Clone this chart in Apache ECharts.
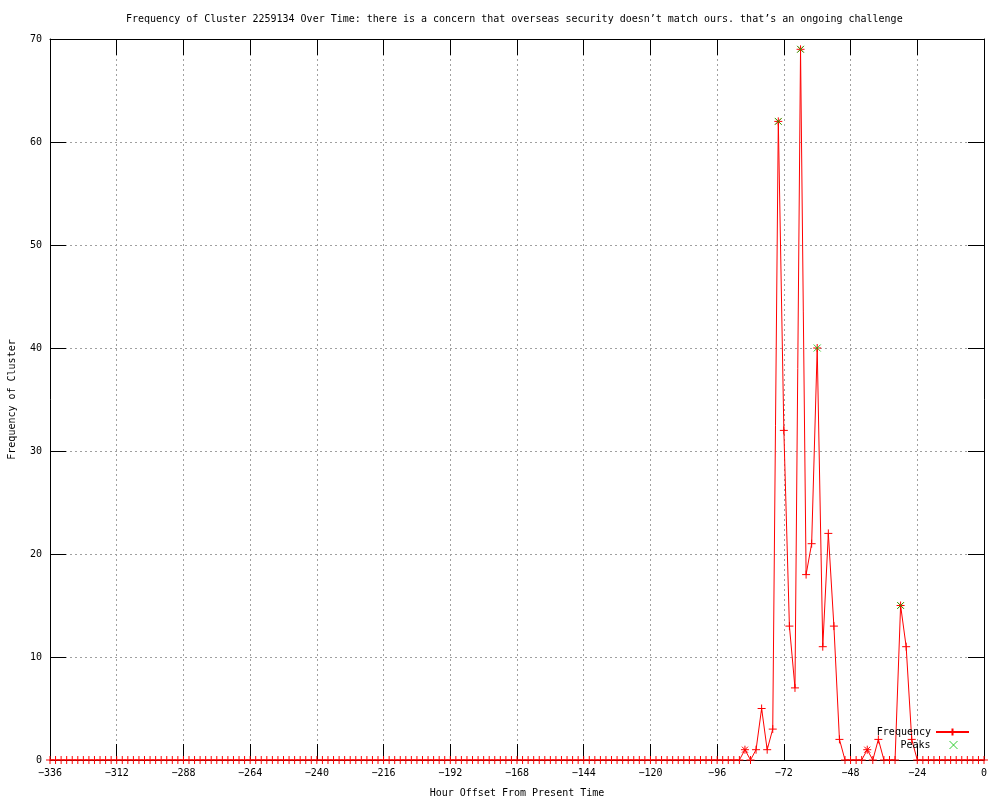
<!DOCTYPE html>
<html>
<head>
<meta charset="utf-8">
<script src="https://cdn.jsdelivr.net/npm/echarts@6/dist/echarts.min.js"></script>
<style>html,body{margin:0;padding:0;background:#fff}#c{width:1000px;height:800px}</style>
</head>
<body>
<div id="c"></div>
<script>
// Hours: -336 .. 0, every 2 hours (169 samples)
const startHour = -336;
const stepHours = 2;
const frequency = [
  0,0,0,0,0,0,0,0,0,0,0,0,0,0,0,0,0,0,0,0,
  0,0,0,0,0,0,0,0,0,0,0,0,0,0,0,0,0,0,0,0,
  0,0,0,0,0,0,0,0,0,0,0,0,0,0,0,0,0,0,0,0,
  0,0,0,0,0,0,0,0,0,0,0,0,0,0,0,0,0,0,0,0,
  0,0,0,0,0,0,0,0,0,0,0,0,0,0,0,0,0,0,0,0,
  0,0,0,0,0,0,0,0,0,0,0,0,0,0,0,0,0,0,0,0,
  0,0,0,0,0,
  // -86 .. -24
  1,0,1,5,1,3,62,32,13,7,69,18,21,40,11,22,13,2,0,0,0,0,1,0,2,0,0,0,15,11,2,0,
  // -22 .. 0
  0,0,0,0,0,0,0,0,0,0,0,0
];
const starHours = [-86, -74, -66, -42, -30];
const peakHours = [-74, -66, -60, -30];
const peakValues = [62, 69, 40, 15];
const xTicks = [-336,-312,-288,-264,-240,-216,-192,-168,-144,-120,-96,-72,-48,-24,0];
const yTicks = [0,10,20,30,40,50,60,70];

const titleText = "Frequency of Cluster 2259134 Over Time: there is a concern that overseas security doesn\u2019t match ours. that\u2019s an ongoing challenge";

const PLUS = 'path://M0,4H8M4,0V8';
const STAR = 'path://M0,4H8M4,0V8M1,1L7,7M7,1L1,7';
const CROSS = 'path://M0,0L8,8M8,0L0,8';
const FONT = 'DejaVu Sans Mono';

const freqData = frequency.map((v, i) => {
  const h = startHour + i * stepHours;
  const item = { value: [h, v] };
  if (starHours.indexOf(h) >= 0) item.symbol = STAR;
  return item;
});
const peakData = peakHours.map((h, i) => [h, peakValues[i]]);

function baseAxis(extra) {
  return Object.assign({
    type: 'value',
    axisLine: { show: true, onZero: false, lineStyle: { color: '#000', width: 1 } },
    axisTick: { show: true, inside: true, length: 16, lineStyle: { color: '#000', width: 1 } },
    splitLine: { show: false },
    axisLabel: { show: false }
  }, extra);
}

const chart = echarts.init(document.getElementById('c'), null, { renderer: 'canvas' });
chart.setOption({
  animation: false,
  backgroundColor: '#fff',
  title: {
    text: titleText, left: 121, top: 9,
    textStyle: { fontFamily: FONT, fontSize: 10, fontWeight: 'normal', color: '#000' }
  },
  legend: [
    {
      data: ['Frequency'], orient: 'vertical', align: 'right', right: 30, top: 727, padding: 0,
      itemWidth: 33, itemHeight: 9, selectedMode: false,
      textStyle: { fontFamily: FONT, fontSize: 10, color: '#000' }
    },
    {
      data: [{ name: 'Peaks', icon: CROSS }], orient: 'vertical', align: 'right', right: 42, top: 740, padding: 0,
      itemWidth: 8, itemHeight: 8, selectedMode: false,
      itemStyle: { color: '#00c000', borderColor: '#00c000', borderWidth: 1 },
      textStyle: { fontFamily: FONT, fontSize: 10, color: '#000', padding: [0, 14, 0, 0] }
    }
  ],
  grid: { left: 50, right: 16, top: 39, bottom: 40, containLabel: false, outerBoundsMode: 'none' },
  xAxis: [
    baseAxis({
      position: 'bottom', min: -336, max: 0, interval: 24,
      axisLabel: { show: true, margin: 8, fontFamily: FONT, fontSize: 10, color: '#000',
        formatter: v => (xTicks.indexOf(v) >= 0 ? String(v).replace('-', '\u2212') : '') },
      splitLine: { show: true, lineStyle: { color: '#a0a0a0', type: [2, 3], width: 1 } },
      name: 'Hour Offset From Present Time', nameLocation: 'middle', nameGap: 28,
      nameTextStyle: { fontFamily: FONT, fontSize: 10, color: '#000' }
    }),
    baseAxis({ position: 'top', min: -336, max: 0, interval: 24 })
  ],
  yAxis: [
    baseAxis({
      position: 'left', min: 0, max: 70, interval: 10,
      axisLabel: { show: true, margin: 8, fontFamily: FONT, fontSize: 10, color: '#000',
        formatter: v => (yTicks.indexOf(v) >= 0 ? String(v) : '') },
      splitLine: { show: true, lineStyle: { color: '#a0a0a0', type: [2, 3], width: 1 } },
      name: 'Frequency of Cluster', nameLocation: 'middle', nameGap: 33,
      nameTextStyle: { fontFamily: FONT, fontSize: 10, color: '#000' }
    }),
    baseAxis({ position: 'right', min: 0, max: 70, interval: 10 })
  ],
  series: [
    {
      name: 'Frequency', type: 'line', data: freqData,
      symbol: PLUS, symbolSize: 8, showAllSymbol: true,
      lineStyle: { color: '#ff0000', width: 1 },
      itemStyle: { color: '#ff0000', borderColor: '#ff0000', borderWidth: 1 },
      emphasis: { disabled: true }, z: 3
    },
    {
      name: 'Peaks', type: 'scatter', data: peakData,
      symbol: CROSS, symbolSize: 7,
      itemStyle: { color: '#00c000', borderColor: '#00c000', borderWidth: 1 },
      emphasis: { disabled: true }, z: 4
    }
  ]
});
</script>
</body>
</html>
